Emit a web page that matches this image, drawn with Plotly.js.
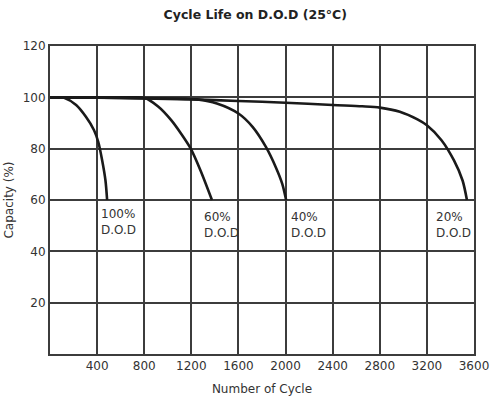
<!DOCTYPE html>
<html><head><meta charset="utf-8">
<script src="https://cdn.plot.ly/plotly-3.0.1.min.js"></script>
<style>html,body{margin:0;padding:0;background:#fff}#chart{width:491px;height:407px}</style>
</head><body><div id="chart"></div>
<script>
const dod100X = [0, 40, 80, 120, 222, 305, 374, 410, 443, 471, 485];
const dod100Y = [100, 100, 100, 99.8, 97, 92.4, 87.2, 82.6, 75.4, 67.6, 60];
const dod60X = [0, 250, 500, 700, 800, 918, 1029, 1112, 1195, 1278, 1375];
const dod60Y = [100, 100, 100, 100, 99.8, 96.4, 91.1, 85.9, 80, 71.5, 60];
const dod40X = [0, 300, 600, 900, 1150, 1250, 1417, 1600, 1720, 1833, 1917, 1972, 2005];
const dod40Y = [100, 99.9, 99.8, 99.6, 99.4, 99.2, 97.6, 93.7, 88.5, 80.7, 72.8, 66.3, 60];
const dod20X = [0, 400, 800, 1200, 1600, 2000, 2400, 2650, 2800, 2970, 3120, 3200, 3324, 3430, 3503, 3540];
const dod20Y = [100, 99.9, 99.6, 99.2, 98.6, 97.9, 97, 96.5, 96, 94.4, 91.4, 89.1, 83.3, 75.4, 67.6, 60];
const labelTexts = ['100%<br>D.O.D', '60%<br>D.O.D', '40%<br>D.O.D', '20%<br>D.O.D'];
const labelX = [420, 1290, 2025, 3262];
const labelY = [58, 57, 57, 57];
const xTicks = [400, 800, 1200, 1600, 2000, 2400, 2800, 3200, 3600];
const yTicks = [20, 40, 60, 80, 100, 120];

const FONT = 'DejaVu Sans, Verdana, sans-serif';
const mk = (x, y) => ({x, y, type: 'scatter', mode: 'lines', line: {color: '#1a1a1a', width: 2.6, shape: 'spline', smoothing: 0.8}, hoverinfo: 'skip', showlegend: false});
const data = [mk(dod100X, dod100Y), mk(dod60X, dod60Y), mk(dod40X, dod40Y), mk(dod20X, dod20Y)];

const annotations = labelTexts.map((t, i) => ({
  x: labelX[i], y: labelY[i], xref: 'x', yref: 'y', text: t, showarrow: false,
  xanchor: 'left', yanchor: 'top', align: 'left',
  font: {family: FONT, size: 12, color: '#333'}
}));

const layout = {
  width: 491, height: 407,
  margin: {l: 50, r: 17, t: 46, b: 53},
  paper_bgcolor: '#fff', plot_bgcolor: '#fff',
  title: {text: '<b>Cycle Life on D.O.D (25°C)</b>', x: 0.52, xanchor: 'center', y: 0.965, yanchor: 'middle', font: {family: FONT, size: 12.5, color: '#222'}},
  xaxis: {
    range: [0, 3600], tickvals: xTicks, ticktext: xTicks.map(String),
    showgrid: true, gridcolor: '#3c3c3c', gridwidth: 2,
    showline: true, linecolor: '#3c3c3c', linewidth: 2, mirror: true,
    ticks: '', zeroline: false,
    tickfont: {family: FONT, size: 12, color: '#333'},
    title: {text: 'Number of Cycle', font: {family: FONT, size: 12, color: '#333'}, standoff: 12}
  },
  yaxis: {
    range: [0, 120], tickvals: yTicks, ticktext: yTicks.map(String),
    showgrid: true, gridcolor: '#3c3c3c', gridwidth: 2,
    showline: true, linecolor: '#3c3c3c', linewidth: 2, mirror: true,
    ticks: '', zeroline: false,
    tickfont: {family: FONT, size: 12, color: '#333'},
    title: {text: 'Capacity (%)', font: {family: FONT, size: 12, color: '#333'}, standoff: 6}
  },
  annotations
};
Plotly.newPlot('chart', data, layout, {staticPlot: true, displayModeBar: false});
</script></body></html>
